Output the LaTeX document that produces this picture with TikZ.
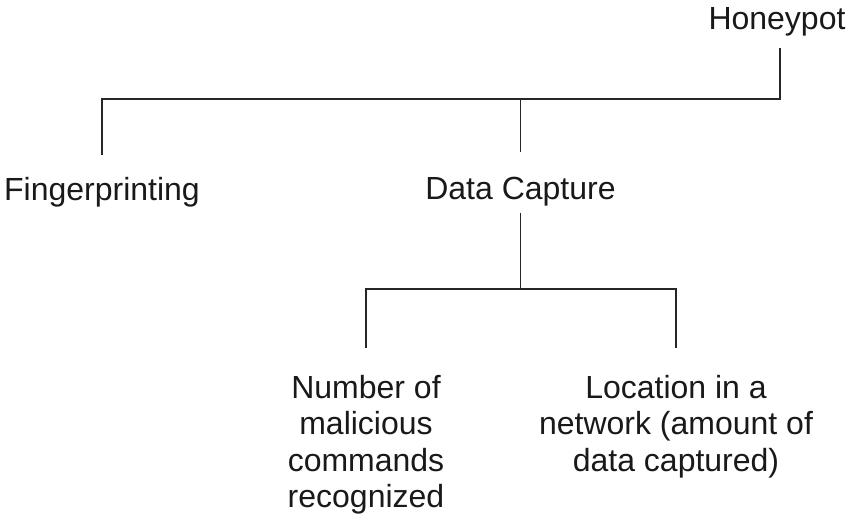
\documentclass[tikz,border=0pt]{standalone}
\usepackage{fontspec}
\setmainfont{Liberation Sans}
\begin{document}
\begin{tikzpicture}[x=1pt,y=-1pt,
  lbl/.style={inner sep=0pt,outer sep=0pt,align=center,font=\fontsize{32}{36.5}\selectfont,text=black!90},
  conn/.style={draw=black!85,line width=1.6pt}]
\useasboundingbox (0,0) rectangle (848,519);
\coordinate (r1) at (0,99);
\coordinate (r2) at (0,289);
\node[lbl,anchor=base] (h) at (777,30) {Honeypot};
\node[lbl,anchor=base] (f) at (102,200) {Fingerprinting};
\node[lbl,anchor=base] (d) at (520.5,199) {Data Capture};
\node[lbl,anchor=base] (n) at (366,507.5) {Number of\\malicious\\commands\\recognized};
\node[lbl,anchor=base] (l) at (676,471) {Location in a\\network (amount of\\data captured)};
\draw[conn] ([xshift=3pt,yshift=-11pt]h.south) |- (f.north |- r1) -- ([yshift=22pt]f.north);
\draw[conn] (d.north |- r1) -- ([yshift=25pt]d.north);
\draw[conn] ([yshift=-7pt]d.south) -- (d.south |- r2);
\draw[conn] ([yshift=27pt]n.north) |- (l.north |- r2) -- ([yshift=27pt]l.north);
\end{tikzpicture}
\end{document}
